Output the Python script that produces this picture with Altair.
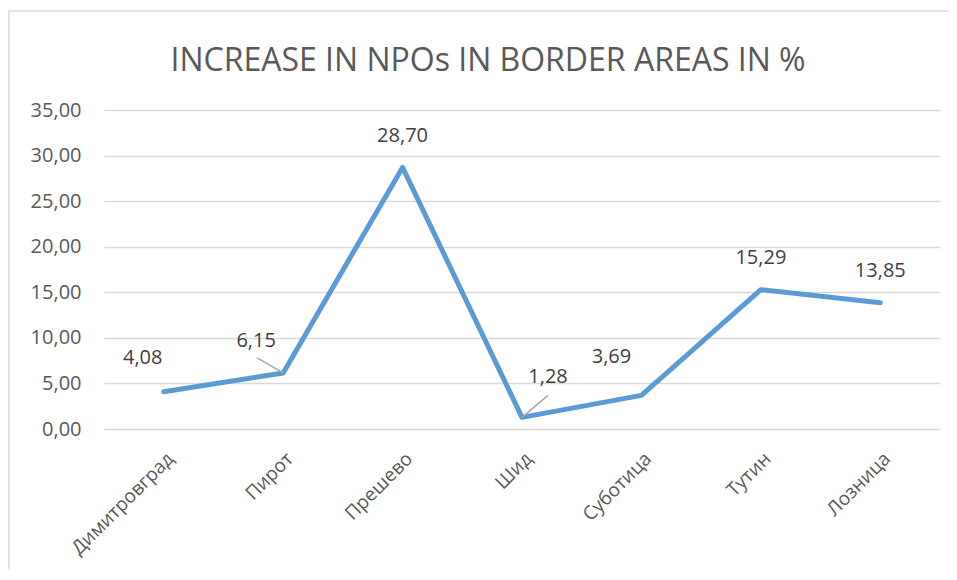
import altair as alt
import pandas as pd

title_text = "INCREASE IN NPOs IN BORDER AREAS IN %"
towns = ["Димитровград", "Пирот", "Прешево", "Шид", "Суботица", "Тутин", "Лозница"]
increase = [4.08, 6.15, 28.70, 1.28, 3.69, 15.29, 13.85]
y_ticks = [0, 5, 10, 15, 20, 25, 30, 35]

df = pd.DataFrame({"town": towns, "value": increase})

FONT = "Open Sans"
GREY = "#595959"
LINE = "#5B9BD5"
W, H = 836, 319

x_enc = alt.X("town:N", sort=towns, scale=alt.Scale(type="point", padding=0.5),
              axis=alt.Axis(title=None, labelAngle=-45, labelFont=FONT, labelFontSize=19,
                            labelColor=GREY, labelPadding=20, ticks=False, domain=False,
                            labelAlign="right", labelBaseline="top"))
y_enc = alt.Y("value:Q", scale=alt.Scale(domain=[0, 35], nice=False),
              axis=alt.Axis(title=None, values=y_ticks, grid=True, gridColor="#D9D9D9",
                            gridWidth=1.5, ticks=False, domain=False, labelFont=FONT,
                            labelFontSize=20, labelColor=GREY, labelPadding=23,
                            labelExpr="replace(format(datum.value, '.2f'), '.', ',')"))

base = alt.Chart(df).encode(x=x_enc, y=y_enc)

frame = alt.Chart(df).transform_filter(alt.datum.town == towns[0]).mark_rect(
    fillOpacity=0, stroke="#D9D9D9", strokeWidth=1.5).encode(
    x=alt.value(-95), x2=alt.value(2000), y=alt.value(-99), y2=alt.value(2000))

line = base.mark_line(color=LINE, strokeWidth=5, strokeCap="round", strokeJoin="round")

offsets = {
    "Димитровград": (-21, -34),
    "Пирот": (-27, -32),
    "Прешево": (0, -31),
    "Шид": (26, -40),
    "Суботица": (-30, -38),
    "Тутин": (0, -32),
    "Лозница": (0, -32),
}

labels = []
for t in towns:
    dx, dy = offsets[t]
    labels.append(
        base.transform_filter(alt.datum.town == t)
        .transform_calculate(label="replace(format(datum.value, '.2f'), '.', ',')")
        .mark_text(font=FONT, fontSize=20, color="#404040", dx=dx, dy=dy, baseline="middle")
        .encode(text="label:N")
    )

leader_pirot = base.transform_filter(alt.datum.town == "Пирот").mark_rule(
    color="#A6A6A6", strokeWidth=1.5, x2Offset=-26, y2Offset=-15
).encode(x2="town:N", y2="value:Q")
leader_sid = base.transform_filter(alt.datum.town == "Шид").mark_rule(
    color="#A6A6A6", strokeWidth=1.5, x2Offset=26, y2Offset=-22
).encode(x2="town:N", y2="value:Q")

title = alt.Chart(df).transform_filter(alt.datum.town == towns[0]).mark_text(
    text=title_text, font=FONT, fontSize=32, color=GREY, align="center", baseline="alphabetic"
).encode(x=alt.value(384), y=alt.value(-39))

chart = alt.layer(frame, line, leader_pirot, leader_sid, *labels, title).properties(
    width=W, height=H,
    autosize=alt.AutoSizeParams(type="none"),
    padding={"left": 96, "top": 102, "right": 9, "bottom": 140},
).configure_view(stroke=None)

chart.save("out.html", embed_options={"renderer": "svg", "actions": False})
